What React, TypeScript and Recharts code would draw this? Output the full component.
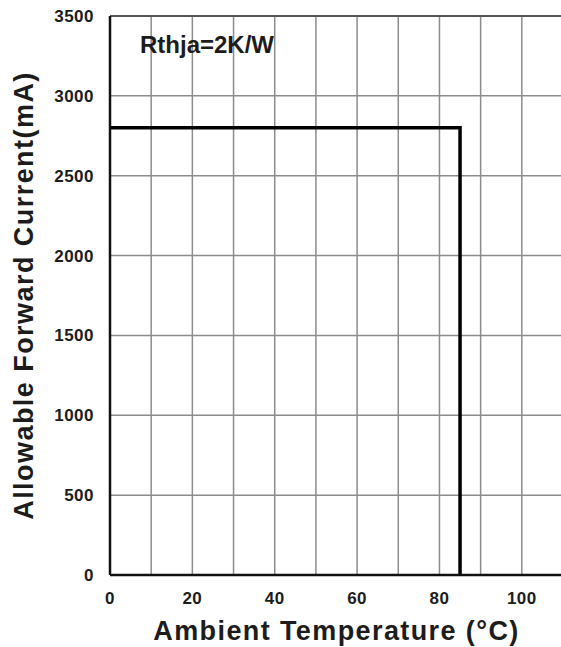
import * as React from "react"
import {
  CartesianGrid,
  Customized,
  Line,
  LineChart,
  ReferenceLine,
  XAxis,
  YAxis,
} from "recharts"

// derating curve, Rthja = 2K/W
const temps = [0, 85, 85]
const currents = [2800, 2800, 0]

const xTicks = [0, 10, 20, 30, 40, 50, 60, 70, 80, 90, 100, 110]
const yTicks = [0, 500, 1000, 1500, 2000, 2500, 3000, 3500]

const data = temps.map((t, i) => ({ temp: t, current: currents[i] }))

const font = "'Liberation Sans', Arial, sans-serif"
const textColor = "#1c1c1c"

const Note = () => (
  <text
    x={140}
    y={53}
    fontFamily={font}
    fontWeight="bold"
    fontSize={24}
    fill={textColor}
  >
    Rthja=2K/W
  </text>
)

const tickStyle = {
  fontSize: 17,
  fontWeight: "bold",
  fill: textColor,
  fontFamily: font,
  letterSpacing: 0.5,
}

export default function App() {
  return (
    <div
      style={{
        position: "absolute",
        left: 0,
        top: 0,
        width: 561,
        height: 647,
        overflow: "hidden",
        background: "#fff",
      }}
    >
      <LineChart
        width={563}
        height={647}
        data={data}
        margin={{ top: 16, right: 0, left: 0, bottom: 0 }}
      >
        <CartesianGrid stroke="#8c8c8c" strokeWidth={1.5} />
        <XAxis
          dataKey="temp"
          type="number"
          domain={[0, 110]}
          ticks={xTicks}
          interval={0}
          tickFormatter={(v) => (v % 20 === 0 && v <= 100 ? String(v) : "")}
          height={72}
          tickLine={false}
          axisLine={{ stroke: "#111", strokeWidth: 2.5 }}
          tick={tickStyle}
          tickMargin={11}
          label={{
            value: "Ambient Temperature (°C)",
            position: "insideBottom",
            offset: 7,
            fontSize: 27,
            fontWeight: "bold",
            fill: textColor,
            fontFamily: font,
            letterSpacing: 1.4,
          }}
        />
        <YAxis
          type="number"
          domain={[0, 3500]}
          ticks={yTicks}
          interval={0}
          width={110}
          tickLine={false}
          axisLine={{ stroke: "#111", strokeWidth: 2.5 }}
          tick={tickStyle}
          tickMargin={10}
          label={{
            value: "Allowable Forward Current(mA)",
            angle: -90,
            position: "insideLeft",
            offset: 23,
            fontSize: 27,
            fontWeight: "bold",
            fill: textColor,
            fontFamily: font,
            letterSpacing: 1.45,
            style: { textAnchor: "middle" },
          }}
        />
        <ReferenceLine y={3500} stroke="#555" strokeWidth={2} />
        <Line
          type="linear"
          dataKey="current"
          stroke="#000"
          strokeWidth={3.5}
          dot={false}
          isAnimationActive={false}
        />
        <Customized component={Note} />
      </LineChart>
    </div>
  )
}
